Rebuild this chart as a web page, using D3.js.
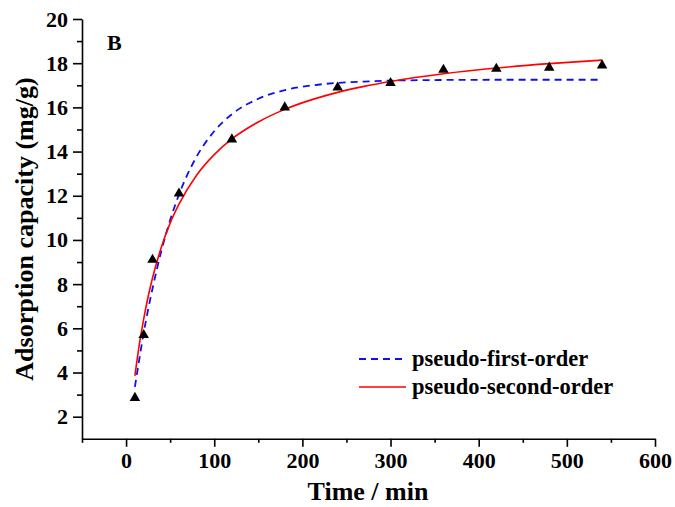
<!DOCTYPE html>
<html>
<head>
<meta charset="utf-8">
<script src="https://cdn.jsdelivr.net/npm/d3@7"></script>
<style>
  html, body { margin: 0; padding: 0; background: #fff; }
  svg text { font-family: "Liberation Serif", "Times New Roman", serif; font-weight: bold; fill: #000; }
</style>
</head>
<body>
<svg id="chart" width="675" height="507"></svg>
<script>
// ---- data ----
const time = [10, 20, 30, 60, 120, 180, 240, 300, 360, 420, 480, 540];
const qt   = [2.85, 5.7, 9.1, 12.1, 14.55, 16.0, 16.9, 17.1, 17.7, 17.75, 17.8, 17.9];

const fitTime = [10, 15, 20, 25, 30, 40, 50, 60, 80, 100, 120, 150, 180, 210, 240, 270, 300, 360, 420, 480, 540];
const firstOrder  = [3.35, 4.6, 5.8, 6.85, 7.8, 9.5, 10.9, 12.05, 13.77, 14.92, 15.69, 16.39, 16.78, 16.99, 17.11, 17.17, 17.21, 17.24, 17.25, 17.25, 17.25];
const secondOrder = [3.85, 5.26, 6.43, 7.43, 8.28, 9.67, 10.76, 11.62, 12.93, 13.86, 14.57, 15.34, 15.91, 16.34, 16.68, 16.95, 17.17, 17.52, 17.78, 17.98, 18.14];

const xMajorTicks = [0, 100, 200, 300, 400, 500, 600];
const xMinorTicks = [-50, 50, 150, 250, 350, 450, 550];
const yMajorTicks = [2, 4, 6, 8, 10, 12, 14, 16, 18, 20];
const yMinorTicks = [3, 5, 7, 9, 11, 13, 15, 17, 19];

const legendLabels = ["pseudo-first-order", "pseudo-second-order"];
const panelLabel = "B";
const xTitle = "Time / min";
const yTitle = "Adsorption capacity (mg/g)";

// ---- drawing ----
const svg = d3.select("#chart");
const x = d3.scaleLinear().domain([-50, 600]).range([82, 655]);
const y = d3.scaleLinear().domain([1, 20]).range([438.8, 19]);

const tickFont = 22;

// x axis
const gx = svg.append("g").attr("transform", `translate(0,${y(1)})`);
gx.call(d3.axisBottom(x).tickValues(xMajorTicks).tickSize(8).tickSizeOuter(0).tickPadding(6).tickFormat(d3.format("d")));
gx.append("g").call(d3.axisBottom(x).tickValues(xMinorTicks).tickSize(4).tickFormat(""))
  .select(".domain").remove();
gx.selectAll("text").attr("font-size", tickFont).attr("font-family", null);

// y axis
const gy = svg.append("g").attr("transform", `translate(${x(-50)},0)`);
gy.call(d3.axisLeft(y).tickValues(yMajorTicks).tickSize(9).tickSizeOuter(0).tickPadding(5).tickFormat(d3.format("d")));
gy.append("g").call(d3.axisLeft(y).tickValues(yMinorTicks).tickSize(5).tickFormat(""))
  .select(".domain").remove();
gy.selectAll("text").attr("font-size", tickFont).attr("font-family", null);

svg.selectAll(".domain, .tick line").attr("stroke", "#000").attr("stroke-width", 1.6);

// fit curves
const fo = fitTime.map((t, i) => [t, firstOrder[i]]);
const so = fitTime.map((t, i) => [t, secondOrder[i]]);
const line = d3.line().x(d => x(d[0])).y(d => y(d[1])).curve(d3.curveMonotoneX);

svg.append("path").datum(fo).attr("d", line)
  .attr("fill", "none").attr("stroke", "#1010ee").attr("stroke-width", 1.8).attr("stroke-dasharray", "7,5");
svg.append("path").datum(so).attr("d", line)
  .attr("fill", "none").attr("stroke", "#ff0000").attr("stroke-width", 1.6);

// data points
const tri = d3.symbol().type(d3.symbolTriangle).size(48);
svg.append("g").selectAll("path").data(time.map((t, i) => [t, qt[i]])).join("path")
  .attr("d", tri)
  .attr("transform", d => `translate(${x(d[0])},${y(d[1])})`)
  .attr("fill", "#000");

// legend
const legY = [359, 387];
const legColors = ["#1010ee", "#ff0000"];
const legDash = ["7,5", null];
legendLabels.forEach((lab, i) => {
  svg.append("line").attr("x1", 359).attr("x2", 406).attr("y1", legY[i]).attr("y2", legY[i])
    .attr("stroke", legColors[i]).attr("stroke-width", i === 0 ? 1.8 : 1.6)
    .attr("stroke-dasharray", legDash[i]);
  svg.append("text").attr("x", 412).attr("y", legY[i] + 7).attr("font-size", 22.5).text(lab);
});

// panel label
svg.append("text").attr("x", 107).attr("y", 50).attr("font-size", 22).text(panelLabel);

// axis titles
svg.append("text").attr("x", 368).attr("y", 500).attr("text-anchor", "middle").attr("font-size", 26).text(xTitle);
svg.append("text").attr("transform", `translate(33,229) rotate(-90)`).attr("text-anchor", "middle").attr("font-size", 26).text(yTitle);
</script>
</body>
</html>
